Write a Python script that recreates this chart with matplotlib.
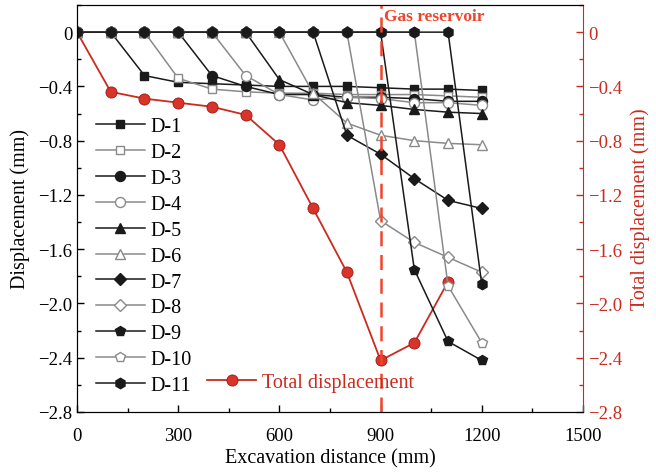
import matplotlib
matplotlib.use('Agg')
import matplotlib.pyplot as plt
from matplotlib.ticker import MultipleLocator, FuncFormatter

plt.rcParams['font.family'] = ['Liberation Serif', 'DejaVu Serif']

x = [0, 100, 200, 300, 400, 500, 600, 700, 800, 900, 1000, 1100, 1200]

d1 = [0, 0, -0.32, -0.37, -0.38, -0.39, -0.40, -0.40, -0.40, -0.41, -0.42, -0.42, -0.43]
d2 = [0, 0, 0, -0.34, -0.42, -0.44, -0.45, -0.45, -0.46, -0.46, -0.46, -0.47, -0.48]
d3 = [0, 0, 0, 0, -0.32, -0.40, -0.46, -0.46, -0.48, -0.48, -0.49, -0.51, -0.51]
d4 = [0, 0, 0, 0, 0, -0.32, -0.46, -0.50, -0.48, -0.49, -0.52, -0.52, -0.54]
d5 = [0, 0, 0, 0, 0, 0, -0.35, -0.46, -0.52, -0.54, -0.57, -0.59, -0.60]
d6 = [0, 0, 0, 0, 0, 0, 0, -0.45, -0.67, -0.76, -0.80, -0.82, -0.83]
d7 = [0, 0, 0, 0, 0, 0, 0, 0, -0.76, -0.90, -1.08, -1.24, -1.30]
d8 = [0, 0, 0, 0, 0, 0, 0, 0, 0, -1.39, -1.55, -1.66, -1.77]
d9 = [0, 0, 0, 0, 0, 0, 0, 0, 0, 0, -1.75, -2.28, -2.42]
d10 = [0, 0, 0, 0, 0, 0, 0, 0, 0, 0, 0, -1.87, -2.29]
d11 = [0, 0, 0, 0, 0, 0, 0, 0, 0, 0, 0, 0, -1.86]

x_total = [0, 100, 200, 300, 400, 500, 600, 700, 800, 900, 1000, 1100]
total = [0, -0.44, -0.49, -0.52, -0.55, -0.61, -0.83, -1.30, -1.77, -2.42, -2.29, -1.84]

series = [d1, d2, d3, d4, d5, d6, d7, d8, d9, d10, d11]
names = ['D-%d' % (i + 1) for i in range(11)]
markers = ['s', 's', 'o', 'o', '^', '^', 'D', 'D', 'p', 'p', 'h']
sizes = [6.3, 6.3, 7.2, 7.2, 7.5, 7.5, 5.8, 5.8, 7.5, 7.5, 7.5]

black = '#1a1a1a'
gray = '#8a8a8a'
red = '#cc2a1e'
dash_red = '#f0442c'

fig = plt.figure(figsize=(6.56, 4.77), dpi=100)
ax = fig.add_axes([0.1174, 0.1342, 0.7713, 0.8532])

line_total, = ax.plot(x_total, total, color=red, lw=1.3, marker='o', ms=8,
                      mfc='#d8342a', mec='#a01810', mew=0.6, label='Total displacement', zorder=2)

handles = []
for i, (s, name, m, ms) in enumerate(zip(series, names, markers, sizes)):
    if i % 2 == 0:
        h, = ax.plot(x, s, color=black, lw=1.1, marker=m, ms=ms, mfc=black, mec=black,
                     label=name, zorder=3)
    else:
        h, = ax.plot(x, s, color=gray, lw=1.1, marker=m, ms=ms, mfc='white', mec=gray,
                     mew=1.0, label=name, zorder=3)
    handles.append(h)

ax.axvline(900, color=dash_red, lw=1.8, ls=(0, (6, 3.5)), zorder=4)
ax.text(910, 0.12, 'Gas reservoir', color=dash_red, fontsize=12.5, fontweight='bold',
        ha='left', va='center')

ax.set_xlim(0, 1500)
ax.set_ylim(-2.8, 0.2)
ax.xaxis.set_major_locator(MultipleLocator(300))
ax.xaxis.set_minor_locator(MultipleLocator(150))
ax.yaxis.set_major_locator(MultipleLocator(0.4))
ax.yaxis.set_minor_locator(MultipleLocator(0.2))

def fmt(v, pos):
    if abs(v) < 1e-9:
        return '0'
    return ('%.1f' % v).replace('-', '\u2212')

ax.yaxis.set_major_formatter(FuncFormatter(fmt))
ax.tick_params(which='both', direction='in', labelsize=13.5, top=False, right=False)
ax.tick_params(which='major', length=5, width=1)
ax.tick_params(which='minor', length=3, width=1)
ax.tick_params(axis='x', pad=11)
ax.set_xlabel('Excavation distance (mm)', fontsize=14.5, labelpad=3)
ax.set_ylabel('Displacement (mm)', fontsize=14.5, labelpad=6)
ax.spines['right'].set_visible(False)

ax2 = ax.twinx()
ax2.set_ylim(ax.get_ylim())
ax2.yaxis.set_major_locator(MultipleLocator(0.4))
ax2.yaxis.set_minor_locator(MultipleLocator(0.2))
ax2.yaxis.set_major_formatter(FuncFormatter(fmt))
ax2.tick_params(which='both', direction='in', colors=red, labelsize=13.5)
ax2.tick_params(which='major', length=5, width=1)
ax2.tick_params(which='minor', length=3, width=1)
ax2.spines['right'].set_color(red)
ax2.set_ylabel('Total displacement (mm)', fontsize=14.5, color=red, labelpad=6)

leg1 = ax.legend(handles=handles, loc='upper left', bbox_to_anchor=(0.01, 0.76),
                 frameon=False, fontsize=14.5, handlelength=2.4, handletextpad=0.3,
                 labelspacing=0.34, borderpad=0.2)
ax.add_artist(leg1)
leg2 = ax.legend(handles=[line_total], loc='upper left', bbox_to_anchor=(0.23, 0.13),
                 frameon=False, fontsize=14.5, handlelength=2.4, handletextpad=0.3,
                 borderpad=0.2)
for t in leg2.get_texts():
    t.set_color(red)

fig.savefig('out.png', dpi=100)
